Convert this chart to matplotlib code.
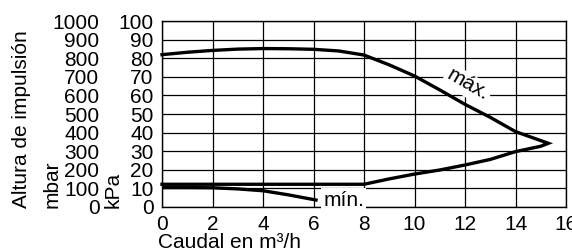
#!/usr/bin/env python3
import matplotlib
matplotlib.use("Agg")
import matplotlib.pyplot as plt

# outline of the maximum curve (upper branch, back along lower branch, then flat)
max_flow = [0, 1, 2, 3, 4, 5, 6, 7, 8, 9, 10, 11, 12, 13, 14, 15.3,
            15, 14, 13, 12, 11, 10, 9, 8, 0]
max_head = [82, 83.3, 84.3, 85, 85.3, 85.2, 84.9, 84, 81.8, 76.5, 70.5, 63, 55.2, 48.2, 40.5, 34.2,
            32.6, 29.7, 25.5, 22.5, 19.8, 17.6, 15, 12.1, 12.1]
min_flow = [0, 1, 2, 3, 4, 5, 6.1]
min_head = [10.3, 10.3, 10.2, 9.6, 8.6, 6.4, 3.6]

x_ticks = list(range(0, 17, 2))
kpa_ticks = list(range(0, 101, 10))
mbar_ticks = list(range(0, 1001, 100))

FS = 15
plt.rcParams["font.family"] = ["Liberation Sans", "DejaVu Sans"]
plt.rcParams["font.size"] = FS

fig = plt.figure(figsize=(5.72, 2.52), dpi=100)
ax = fig.add_axes([162 / 572, 1 - 206.7 / 252, 404 / 572, 185.4 / 252])

ax.plot(max_flow, max_head, color="black", linewidth=2.4, solid_joinstyle="miter", clip_on=False, zorder=3)
ax.plot(min_flow, min_head, color="black", linewidth=2.4, zorder=3)

ax.set_xlim(0, 16)
ax.set_ylim(0, 100)
ax.set_xticks(x_ticks)
ax.set_yticks(kpa_ticks)
ax.grid(True, color="black", linewidth=0.9)
ax.tick_params(axis="y", length=0, pad=6, labelsize=FS)
ax.tick_params(axis="x", length=0, pad=6, labelsize=FS)
for s in ax.spines.values():
    s.set_linewidth(1.0)

# mbar scale on the far left
sec = ax.secondary_yaxis(-0.155, functions=(lambda v: v * 10, lambda v: v / 10))
sec.set_yticks(mbar_ticks)
sec.tick_params(length=0, pad=0, labelsize=FS)
sec.spines["left"].set_visible(False)

ax.text(7.2, 3.6, "mín.", ha="center", va="center", fontsize=FS, zorder=4,
        bbox=dict(facecolor="white", edgecolor="none", pad=1.5))
ax.text(12.1, 65.6, "máx.", ha="center", va="center", fontsize=FS, rotation=-30, zorder=4,
        rotation_mode="anchor", bbox=dict(facecolor="white", edgecolor="none", pad=1.5))

fig.text(158 / 572, 1 - 243 / 252, "Caudal en m³/h", ha="left", va="center", fontsize=FS)
fig.text(22 / 572, 1 - 208 / 252, "Altura de impulsión", rotation=90, ha="center", va="bottom", fontsize=FS)
fig.text(52 / 572, 1 - 208 / 252, "mbar", rotation=90, ha="center", va="bottom", fontsize=FS)
fig.text(113 / 572, 1 - 208 / 252, "kPa", rotation=90, ha="center", va="bottom", fontsize=FS)

fig.savefig("out.png", dpi=100)
